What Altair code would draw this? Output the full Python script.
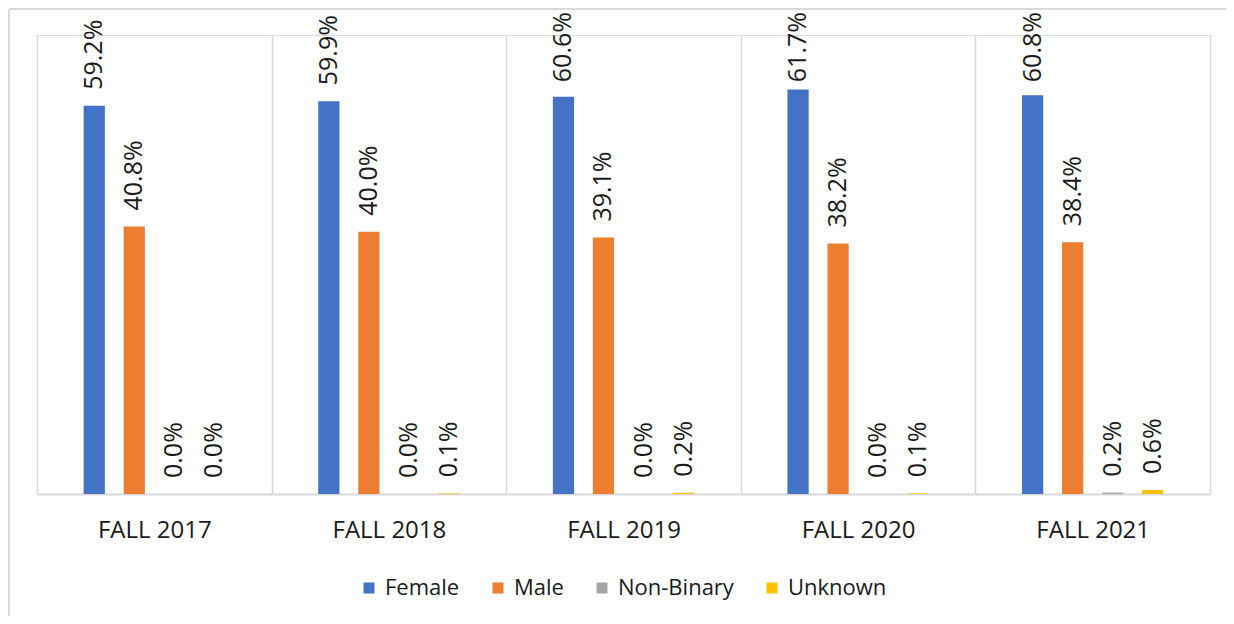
import altair as alt
import pandas as pd

years = ["FALL 2017", "FALL 2018", "FALL 2019", "FALL 2020", "FALL 2021"]
series = ["Female", "Male", "Non-Binary", "Unknown"]
female = [59.2, 59.9, 60.6, 61.7, 60.8]
male = [40.8, 40.0, 39.1, 38.2, 38.4]
nonbinary = [0.0, 0.0, 0.0, 0.0, 0.2]
unknown = [0.0, 0.1, 0.2, 0.1, 0.6]
colors = ["#4472C4", "#ED7D31", "#A5A5A5", "#FFC000"]

rows = []
for name, vals in zip(series, [female, male, nonbinary, unknown]):
    for y, v in zip(years, vals):
        rows.append({"year": y, "gender": name, "value": v})
df = pd.DataFrame(rows)

FONT = "Open Sans"
offset_domain = ["_l"] + series + ["_r"]

xenc = alt.X("year:N", sort=years, title=None,
             scale=alt.Scale(paddingInner=0, paddingOuter=0),
             axis=alt.Axis(tickBand="extent", grid=True, gridColor="#d9d9d9",
                           gridWidth=1.5, domainColor="#d9d9d9", domainWidth=2,
                           ticks=False, labelAngle=0, labelFont=FONT,
                           labelFontSize=24, labelColor="#1a1a1a",
                           labelPadding=24))
xoff = alt.XOffset("gender:N",
                   scale=alt.Scale(domain=offset_domain, paddingInner=0.47,
                                   paddingOuter=0.165))
yscale = alt.Scale(domain=[0, 70])

bars = alt.Chart(df).mark_bar().encode(
    x=xenc, xOffset=xoff,
    y=alt.Y("value:Q", axis=None, scale=yscale),
    color=alt.Color("gender:N", sort=series,
                    scale=alt.Scale(domain=series, range=colors),
                    legend=alt.Legend(title=None, orient="none", legendX=321,
                                      legendY=542, direction="horizontal",
                                      symbolType="square", symbolSize=121,
                                      symbolStrokeWidth=0, labelFont=FONT,
                                      labelFontSize=22, labelColor="#1a1a1a",
                                      columnPadding=27, labelOffset=5,
                                      padding=0))
)

# label anchor sits a little above the bar, kept inside the plot top like Excel does
labels = alt.Chart(df).transform_calculate(
    label="format(datum.value, '.1f') + '%'",
    pos="min(datum.value + 2.44, 62.8)"
).mark_text(angle=270, align="left", baseline="middle",
            font=FONT, fontSize=25, color="#1a1a1a").encode(
    x=xenc, xOffset=xoff,
    y=alt.Y("pos:Q", axis=None, scale=yscale),
    text="label:N")

one = pd.DataFrame({"a": [0]})
frame_left = alt.Chart(one).mark_rule(color="#d9d9d9", strokeWidth=2).encode(
    x=alt.value(-28), y=alt.value(-26), y2=alt.value(640))
frame_top = alt.Chart(one).mark_rule(color="#d9d9d9", strokeWidth=2).encode(
    x=alt.value(-28), x2=alt.value(1260), y=alt.value(-26))

chart = alt.layer(frame_left, frame_top, bars, labels).properties(
    width=1173, height=459,
    autosize=alt.AutoSizeParams(type="none"),
    padding={"left": 29, "top": 27, "right": 16, "bottom": 122},
).configure_view(strokeWidth=0).configure(background="white")

chart.save("out.html", embed_options={"renderer": "svg", "actions": False})
